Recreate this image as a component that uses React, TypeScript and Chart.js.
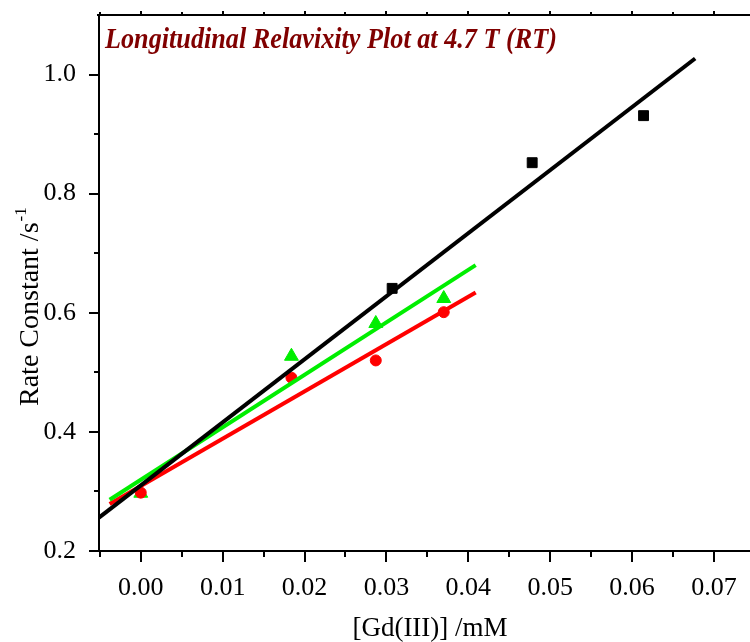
import React, { useEffect, useRef } from 'react';
import { Chart, registerables } from 'chart.js';

Chart.register(...registerables);

// Measured points
const blackX = [0.0307, 0.0478, 0.0614];
const blackY = [0.641, 0.852, 0.931];
const redX = [0.0, 0.0184, 0.0287, 0.037];
const redY = [0.298, 0.491, 0.52, 0.601];
const greenX = [0.0, 0.0184, 0.0287, 0.037];
const greenY = [0.297, 0.527, 0.582, 0.624];

// Linear fit lines (endpoints)
const blackFitX = [-0.0051, 0.0677];
const blackFitY = [0.256, 1.027];
const redFitX = [-0.0038, 0.0409];
const redFitY = [0.279, 0.634];
const greenFitX = [-0.0038, 0.0409];
const greenFitY = [0.286, 0.68];

// Axis ticks
const xTicks = [0, 0.01, 0.02, 0.03, 0.04, 0.05, 0.06, 0.07];
const xMinorTicks = [-0.005, 0.005, 0.015, 0.025, 0.035, 0.045, 0.055, 0.065];
const yTicks = [0.2, 0.4, 0.6, 0.8, 1.0];
const yMinorTicks = [0.3, 0.5, 0.7, 0.9];

const X_MIN = -0.0051;
const X_MAX = 0.0744;
const Y_MIN = 0.2;
const Y_MAX = 1.1;

const TITLE = 'Longitudinal Relavixity Plot at 4.7 T (RT)';
const X_TITLE = '[Gd(III)] /mM';
const Y_TITLE = 'Rate Constant /s';
const Y_TITLE_SUP = '-1';

const SERIF = "'Liberation Serif', 'Times New Roman', serif";

const zip = (xs: number[], ys: number[]) => xs.map((x, i) => ({ x, y: ys[i] }));

const decorPlugin = {
  id: 'decor',
  afterDraw(chart: any) {
    const ctx = chart.ctx as CanvasRenderingContext2D;
    const { left, right, top, bottom } = chart.chartArea;
    const xs = chart.scales.x;
    const ys = chart.scales.y;
    ctx.save();
    ctx.strokeStyle = '#000';
    ctx.lineWidth = 2;
    ctx.beginPath();
    // top frame line
    ctx.moveTo(left - 2, top);
    ctx.lineTo(right, top);
    // x ticks
    xTicks.forEach((v) => {
      const p = Math.round(xs.getPixelForValue(v));
      ctx.moveTo(p, bottom);
      ctx.lineTo(p, bottom + 11);
      ctx.moveTo(p, top);
      ctx.lineTo(p, top - 4);
    });
    xMinorTicks.forEach((v) => {
      const p = Math.round(xs.getPixelForValue(v));
      ctx.moveTo(p, bottom);
      ctx.lineTo(p, bottom + 6);
      ctx.moveTo(p, top);
      ctx.lineTo(p, top - 3);
    });
    yTicks.forEach((v) => {
      const p = Math.round(ys.getPixelForValue(v));
      ctx.moveTo(left, p);
      ctx.lineTo(left - 10, p);
    });
    yMinorTicks.forEach((v) => {
      const p = Math.round(ys.getPixelForValue(v));
      ctx.moveTo(left, p);
      ctx.lineTo(left - 5, p);
    });
    ctx.stroke();

    // Title (condensed bold italic serif)
    ctx.fillStyle = '#800000';
    ctx.font = `italic bold 29px ${SERIF}`;
    ctx.textBaseline = 'alphabetic';
    ctx.textAlign = 'left';
    const w = ctx.measureText(TITLE).width;
    const target = 452;
    ctx.save();
    ctx.translate(left + 6, top + 33);
    ctx.scale(target / w, 1);
    ctx.fillText(TITLE, 0, 0);
    ctx.restore();

    // X axis title
    ctx.fillStyle = '#000';
    ctx.font = `27px ${SERIF}`;
    ctx.textAlign = 'center';
    ctx.fillText(X_TITLE, 430, 636);

    // Y axis title (rotated) with superscript
    ctx.save();
    ctx.translate(38, 406);
    ctx.rotate(-Math.PI / 2);
    ctx.textAlign = 'left';
    ctx.font = `28px ${SERIF}`;
    ctx.fillText(Y_TITLE, 0, 0);
    const tw = ctx.measureText(Y_TITLE).width;
    ctx.font = `17px ${SERIF}`;
    ctx.fillText(Y_TITLE_SUP, tw + 1, -12);
    ctx.restore();

    ctx.restore();
  },
};

export default function App() {
  const ref = useRef<HTMLCanvasElement | null>(null);

  useEffect(() => {
    document.body.style.margin = '0';
    const canvas = ref.current;
    if (!canvas) return;
    const lineDs = (xs: number[], ys: number[], color: string) => ({
      type: 'line' as const,
      data: zip(xs, ys),
      borderColor: color,
      backgroundColor: color,
      borderWidth: 4,
      pointRadius: 0,
      showLine: true,
      fill: false,
      tension: 0,
    });
    const ptDs = (xs: number[], ys: number[], color: string, style: string, r: number) => ({
      type: 'scatter' as const,
      data: zip(xs, ys),
      borderColor: color,
      backgroundColor: color,
      pointStyle: style,
      pointRadius: r,
      pointBorderWidth: 1,
      showLine: false,
    });
    const zeroPad = (s: any) => {
      s.paddingLeft = 0;
      s.paddingRight = 0;
      s.paddingTop = 0;
      s.paddingBottom = 0;
    };
    const chart = new Chart(canvas, {
      type: 'scatter',
      data: {
        datasets: [
          lineDs(blackFitX, blackFitY, '#000000'),
          lineDs(greenFitX, greenFitY, '#00ee00'),
          lineDs(redFitX, redFitY, '#ff0000'),
          ptDs(blackX, blackY, '#000000', 'rect', 7),
          ptDs(redX, redY, '#ff0000', 'circle', 5.5),
          ptDs(greenX, greenY, '#00ee00', 'triangle', 8),
        ] as any,
      },
      options: {
        animation: false,
        responsive: false,
        maintainAspectRatio: false,
        layout: { autoPadding: false, padding: { top: 15, right: 0, left: 0, bottom: 0 } },
        plugins: {
          legend: { display: false },
          tooltip: { enabled: false },
          title: { display: false },
        },
        scales: {
          x: {
            type: 'linear',
            min: X_MIN,
            max: X_MAX,
            afterBuildTicks: (s: any) => {
              s.ticks = xTicks.map((v) => ({ value: v }));
            },
            afterFit: (s: any) => {
              s.height = 91;
              zeroPad(s);
            },
            grid: { display: false },
            border: { display: true, color: '#000', width: 2 },
            ticks: {
              color: '#000',
              padding: 14,
              maxRotation: 0,
              autoSkip: false,
              font: { family: SERIF, size: 26 },
              callback: (v: any) => Number(v).toFixed(2),
            },
          },
          y: {
            type: 'linear',
            min: Y_MIN,
            max: Y_MAX,
            afterBuildTicks: (s: any) => {
              s.ticks = yTicks.map((v) => ({ value: v }));
            },
            afterFit: (s: any) => {
              s.width = 99;
              zeroPad(s);
            },
            grid: { display: false },
            border: { display: true, color: '#000', width: 2 },
            ticks: {
              color: '#000',
              padding: 15,
              autoSkip: false,
              font: { family: SERIF, size: 26 },
              callback: (v: any) => Number(v).toFixed(1),
            },
          },
        },
      },
      plugins: [decorPlugin],
    });
    return () => chart.destroy();
  }, []);

  return <canvas ref={ref} width={750} height={642} style={{ display: 'block' }} />;
}
